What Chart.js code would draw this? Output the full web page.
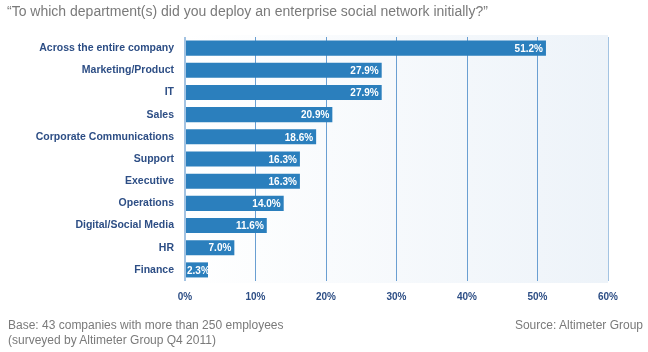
<!DOCTYPE html>
<html>
<head>
<meta charset="utf-8">
<script src="https://cdn.jsdelivr.net/npm/chart.js@4"></script>
<style>
    body { margin: 0; background: #fff; }
    #wrap { position: relative; width: 648px; height: 352px; font-family: "Liberation Sans", Arial, sans-serif; }
    #chart_title { position: absolute; left: 7px; top: 3px; font-size: 14px; color: #7a7a7a; white-space: nowrap; }
    #base_note { position: absolute; left: 8px; top: 318px; font-size: 12px; line-height: 15px; color: #7a7a7a; }
    #source_note { position: absolute; right: 5px; top: 318px; font-size: 12px; line-height: 15px; color: #7a7a7a; }
</style>
</head>
<body>
<div id="wrap">
    <canvas id="department_chart" width="648" height="352"></canvas>
    <div id="chart_title">“To which department(s) did you deploy an enterprise social network initially?”</div>
    <div id="base_note">Base: 43 companies with more than 250 employees<br>(surveyed by Altimeter Group Q4 2011)</div>
    <div id="source_note">Source: Altimeter Group</div>
</div>
<script>
// chart data
var departments = ["Across the entire company", "Marketing/Product", "IT", "Sales", "Corporate Communications",
    "Support", "Executive", "Operations", "Digital/Social Media", "HR", "Finance"];
var percent_values = [51.2, 27.9, 27.9, 20.9, 18.6, 16.3, 16.3, 14.0, 11.6, 7.0, 2.3];
var tick_values = [0, 10, 20, 30, 40, 50, 60];

// light gradient behind the bars
var plot_background = {
    id: 'plot_background',
    beforeDraw: function (chart) {
        var ctx = chart.ctx;
        var area = chart.chartArea;
        var grad = ctx.createLinearGradient(area.left, 0, area.right, 0);
        grad.addColorStop(0, '#ffffff');
        grad.addColorStop(1, '#edf3f9');
        ctx.save();
        ctx.fillStyle = grad;
        ctx.fillRect(area.left, area.top - 2, area.right - area.left, area.bottom - area.top + 4);
        ctx.restore();
    }
};

// white value labels at the end of each bar
var bar_value_labels = {
    id: 'bar_value_labels',
    afterDatasetsDraw: function (chart) {
        var ctx = chart.ctx;
        var meta = chart.getDatasetMeta(0);
        ctx.save();
        ctx.font = 'bold 10px "Liberation Sans", Arial, sans-serif';
        ctx.fillStyle = '#ffffff';
        ctx.textAlign = 'right';
        ctx.textBaseline = 'middle';
        meta.data.forEach(function (bar, i) {
            var txt = percent_values[i].toFixed(1) + '%';
            var w = ctx.measureText(txt).width;
            var x = Math.max(bar.x - 3, bar.base + w + 1);
            ctx.fillText(txt, x, bar.y + 1);
        });
        ctx.restore();
    }
};

var chart_ctx = document.getElementById('department_chart').getContext('2d');
var department_chart = new Chart(chart_ctx, {
    type: 'bar',
    data: {
        labels: departments,
        datasets: [{
            data: percent_values,
            backgroundColor: '#2b7fbd',
            borderWidth: 0,
            barPercentage: 0.68,
            categoryPercentage: 1.0,
            minBarLength: 23,
        }]
    },
    options: {
        indexAxis: 'y',
        responsive: false,
        animation: false,
        layout: {
            padding: { left: 0, right: 40, top: 37, bottom: 49 },
        },
        scales: {
            x: {
                min: 0,
                max: 60,
                afterBuildTicks: function (axis) {
                    axis.ticks = tick_values.map(function (v) { return { value: v }; });
                },
                afterFit: function (axis) { axis.height = 22; },
                ticks: {
                    color: '#2d4e85',
                    font: { size: 10, weight: 'bold', family: '"Liberation Sans", Arial, sans-serif' },
                    padding: 10,
                    callback: function (v) { return v + '%'; },
                },
                grid: {
                    color: function (c) {
                        if (c.index === 0 || c.index === tick_values.length - 1) return '#a3c3e2';
                        return '#6a9fd2';
                    },
                    lineWidth: function (c) { return c.index === 0 ? 2 : 1; },
                    drawTicks: false,
                },
                border: { display: false },
            },
            y: {
                afterFit: function (axis) { axis.width = 185; },
                ticks: {
                    color: '#2d4e85',
                    font: { size: 10.5, weight: 'bold', family: '"Liberation Sans", Arial, sans-serif' },
                    padding: 11,
                },
                grid: { display: false, drawTicks: false },
                border: { display: false },
            },
        },
        plugins: {
            legend: { display: false },
            tooltip: { enabled: false },
        },
    },
    plugins: [plot_background, bar_value_labels]
});
</script>
</body>
</html>
